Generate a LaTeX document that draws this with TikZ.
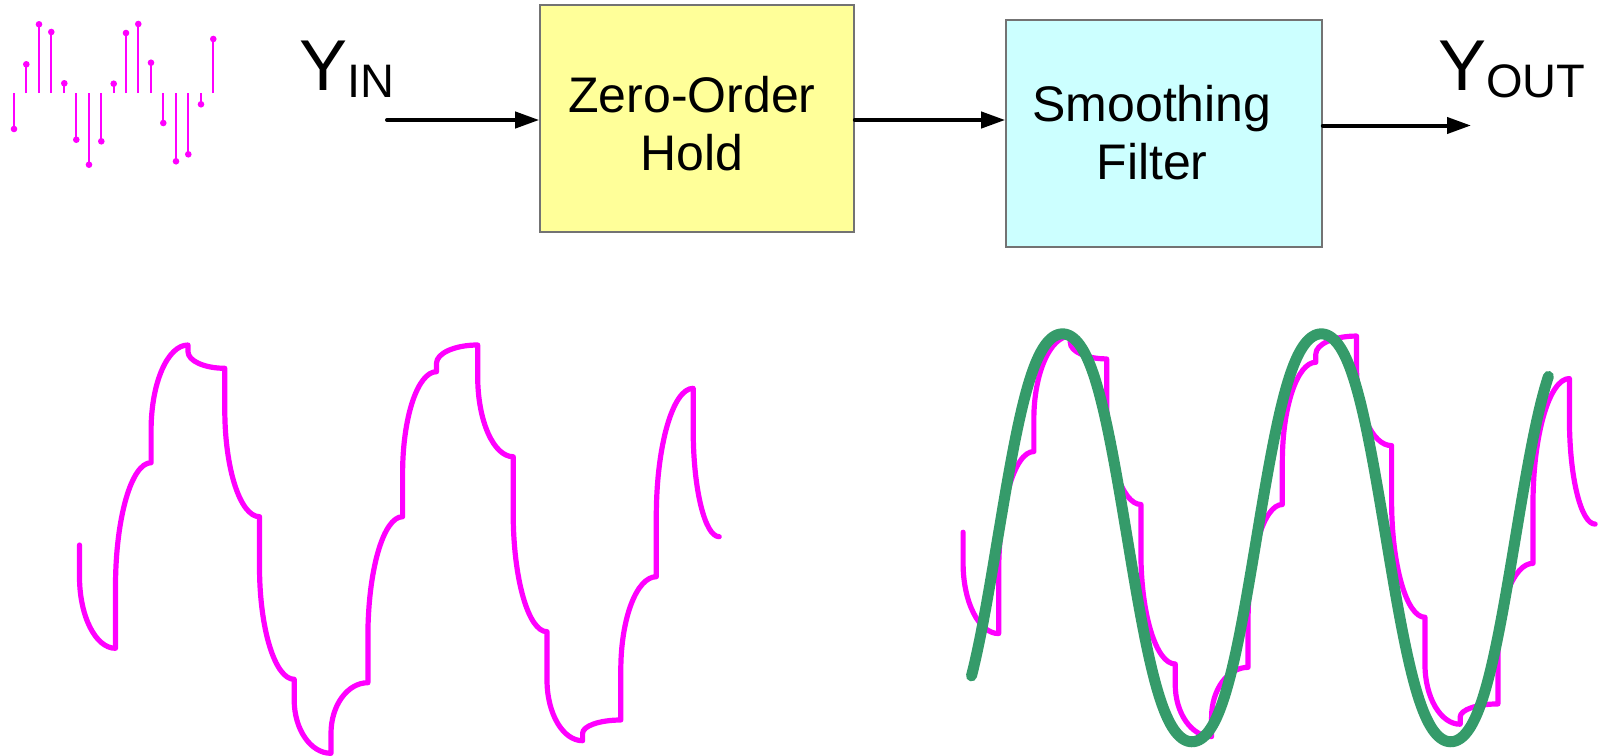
\documentclass[tikz,border=0pt]{standalone}
\usepackage{fontspec}
\setmainfont{Liberation Sans}
\usetikzlibrary{arrows.meta}
\definecolor{mag}{HTML}{FF00FF}
\definecolor{sgreen}{HTML}{359B6A}
\definecolor{zohfill}{HTML}{FFFF99}
\definecolor{sffill}{HTML}{CCFFFF}
\newcommand\wseg[4]{-- (#1,#2) .. controls (#1,{#2+0.5523*(#4-#2)}) and ({#3-0.5523*(#3-#1)},#4) .. (#3,#4)}
\newcommand\zohwave{(79.5,545)
 \wseg{79.5}{576.7}{115.5}{648.3}
 \wseg{115.5}{586.7}{151.1}{462.7}
 \wseg{151.1}{430}{188}{345}
 \wseg{188}{351.7}{224.8}{368.3}
 \wseg{224.8}{410}{259.5}{516.7}
 \wseg{259.5}{566.7}{294.2}{679.3}
 \wseg{294.2}{700}{331}{753.3}
 \wseg{331}{733.3}{367.9}{682.7}
 \wseg{367.9}{636.7}{402.6}{516.7}
 \wseg{402.6}{473.3}{436.5}{371.7}
 \wseg{436.5}{363.3}{477.7}{345}
 \wseg{477.7}{376.7}{513.2}{456.7}
 \wseg{513.2}{513.3}{547}{631.7}
 \wseg{547}{680}{582.6}{740.7}
 \wseg{582.6}{733.3}{620.8}{720}
 \wseg{620.8}{670}{656.3}{576.7}
 \wseg{656.3}{516.7}{693.2}{388.3}
 \wseg{693.2}{430}{719.2}{536.7}}
\tikzset{
  stem/.style={draw=mag, line width=2.2pt},
  wave/.style={draw=mag, line width=5.2pt, line join=round, line cap=round},
  smooth wave/.style={draw=sgreen, line width=11pt, line cap=round, line join=round},
  blockbox/.style={draw=black!55, line width=1.6pt, inner sep=0pt},
  boxtext/.style={font=\fontsize{50}{58}\selectfont, align=center, inner sep=0pt},
  arr/.style={draw=black, line width=4pt, line cap=round, -{Triangle[length=24pt, width=16pt]}},
  sig/.style={anchor=base west, inner sep=0pt}
}
\begin{document}
\begin{tikzpicture}[x=1pt, y=-1pt]
\useasboundingbox (0,0) rectangle (1598,755);
% stem plot
\foreach \sx/\sv [count=\i] in {14/129, 26.3/64.3, 39/24.3, 51.3/32, 64.3/83.3, 76.3/139.7, 89/164.7, 101.3/141.3, 113.7/83.7, 126/33, 138.3/24, 151/62.7, 163.3/123, 176/161.3, 188.3/154.3, 201/104.3, 213.3/39}{
  \draw[stem] (\sx,93) -- (\sx,\sv);
  \fill[mag] (\sx,\sv) circle[radius=3.3pt];
}
% blocks
\node[blockbox, fill=zohfill, minimum width=314pt, minimum height=227pt] (zoh) at (697,118.5) {};
\node[blockbox, fill=sffill, minimum width=316pt, minimum height=227pt] (sf) at (1164,133.5) {};
\node[boxtext] (zohtxt) at (692,124) {Zero-Order\\Hold};
\node[boxtext] (sftxt) at (1152,132.75) {Smoothing\\Filter};
% signal labels
\node[sig] (yin) at (299,90) {\fontsize{72}{72}\selectfont Y\raisebox{-7pt}{\fontsize{47}{47}\selectfont IN}};
\node[sig] (yout) at (1438,90) {\fontsize{72}{72}\selectfont Y\raisebox{-7pt}{\fontsize{47}{47}\selectfont OUT}};
% arrows
\coordinate (inA) at (387,120);
\coordinate (outA) at (1471,125.5);
\draw[arr] (inA) -- (inA -| zoh.west);
\draw[arr] (zoh.east |- inA) -- (sf.west |- inA);
\draw[arr] (sf.east |- outA) -- (outA);
% ZOH output waveform
\draw[wave] \zohwave;
% filtered
\begin{scope}[shift={(884.55,-2.4)}, xscale=0.988, yscale=0.981]
\draw[wave] \zohwave;
\end{scope}
\draw[smooth wave] plot[domain=-36.6:765.9, samples=300, variable=\t] ({997.8+0.71889*\t}, {537.8-214.7*(sin(\t)+0.05*sin(3*\t))});
\end{tikzpicture}
\end{document}
